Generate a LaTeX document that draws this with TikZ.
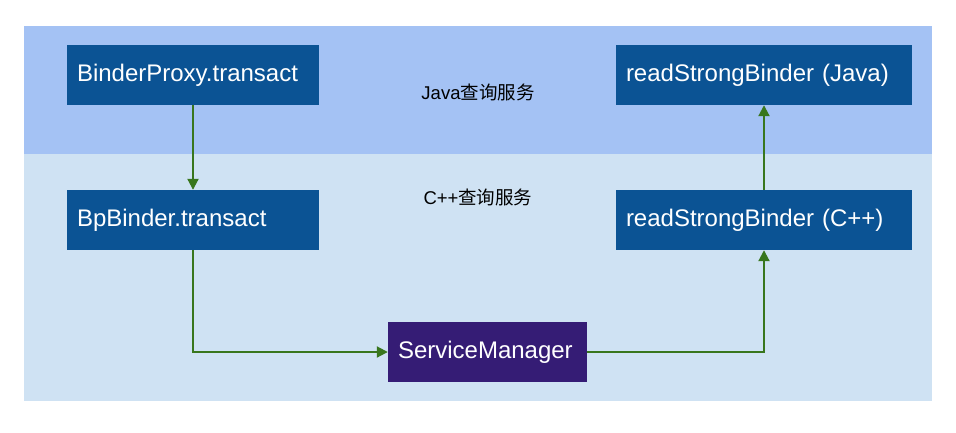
\documentclass[tikz,border=0pt]{standalone}
\usepackage{fontspec}
\setmainfont{Liberation Sans}
\newfontfamily\cjk{Noto Sans CJK SC}
\usepackage{tikz}
\usetikzlibrary{arrows.meta}

\definecolor{javaband}{HTML}{A4C2F4}
\definecolor{cppband}{HTML}{CFE2F3}
\definecolor{procblue}{HTML}{0B5394}
\definecolor{smpurple}{HTML}{351C75}
\definecolor{flowgreen}{HTML}{38761D}

\begin{document}
\begin{tikzpicture}[x=1pt, y=-1pt,
	proc/.style={fill=procblue, text=white, inner xsep=10pt, inner ysep=0pt,
		minimum height=60pt, text width=#1, align=left,
		font=\fontsize{24}{28}\selectfont},
	layer/.style={font=\fontsize{18.5}{22}\selectfont},
	flow/.style={draw=flowgreen, line width=2pt, -{Triangle[length=11pt,width=11pt]}}]
			\useasboundingbox (0,0) rectangle (956,432);
			\fill[white] (0,0) rectangle (956,432);
			\fill[javaband] (24,26) rectangle (932,154);
			\fill[cppband] (24,154) rectangle (932,401);
			
			\node (proxy) [proc=232pt] at (193,75){BinderProxy.transact};
			\node (bp) [proc=232pt] at (193,220){BpBinder.transact};
			\node (sm) [proc=179pt, fill=smpurple] at (487.5,352){ServiceManager};
			\node (readcpp) [proc=276pt] at (764,220){readStrongBinder (C++)};
			\node (readjava) [proc=276pt] at (764,75){readStrongBinder (Java)};
			
			\node (javalabel) [layer] at (478,92){Java{\cjk 查询服务}};
			\node (cpplabel) [layer] at (478,197){C++{\cjk 查询服务}};
			
			\draw[flow] (proxy)--(bp);
			\draw[flow] (bp)|-(sm);
			\draw[flow] (sm)-|(readcpp);
			\draw[flow] (readcpp)--(readjava);
			
		\end{tikzpicture}
\end{document}
